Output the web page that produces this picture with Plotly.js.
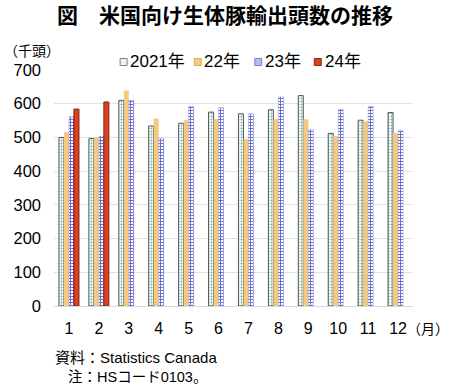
<!DOCTYPE html>
<html>
<head>
<meta charset="utf-8">
<script src="https://cdn.plot.ly/plotly-3.0.1.min.js"></script>
<style>html,body{margin:0;padding:0;background:#fff;}#chart{width:450px;height:386px;}</style>
</head>
<body>
<div id="chart"></div>
<script>
const months = ["1","2","3","4","5","6","7","8","9","10","11","12"];
const seriesNames = ["2021年","22年","23年","24年"];
const y2021 = [500,497,610,534,542,575,570,582,624,512,551,574];
const y2022 = [516,500,639,556,551,555,495,554,554,504,548,513];
const y2023 = [561,503,610,497,592,588,570,620,523,583,592,520];
const y2024 = [584,605];
const yTicks = [0,100,200,300,400,500,600,700];
const titleText = "図　米国向け生体豚輸出頭数の推移";
const unitY = "（千頭）";
const unitX = "（月）";
const note1 = "資料：Statistics Canada";
const note2 = "注：HSコード0103。";

const FONT = "Liberation Sans, Arial, Noto Sans CJK JP, sans-serif";
const CJK = "Noto Sans CJK JP, sans-serif";

// plot-area geometry in pixels (for paper-coordinate helpers)
const L = 53.5, T = 70, W = 360, H = 236;
const px = v => (v - L) / W;
const py = v => (T + H - v) / H;

const fills = ["#ffffff", "#f5c97e", "#ffffff", "#e0401e"];
const lines = ["#555555", "#f5c97e", "#8f93d6", "#7a2010"];
const legFill = ["#eef6f4", "#f5c97e", "#b9bbeb", "#e0401e"];
const legLine = ["#7f7f7f", "#e2ab55", "#7b80d0", "#8b2a14"];
const legSquareX = [123.3, 197.7, 258.3, 318];
const legTextX = [128, 202, 263.5, 323.5];
const legY = 62;

const traces = [
  {type:"bar", name:seriesNames[0], x:months, y:y2021,
   marker:{color:fills[0], line:{color:lines[0], width:1},
           pattern:{shape:".", fgcolor:"#6fb3a8", bgcolor:"#ffffff", size:3, solidity:0.35}}},
  {type:"bar", name:seriesNames[1], x:months, y:y2022,
   marker:{color:fills[1], line:{color:lines[1], width:0}}},
  {type:"bar", name:seriesNames[2], x:months, y:y2023,
   marker:{color:fills[2], line:{color:lines[2], width:0.5},
           pattern:{shape:"+", fgcolor:"#5b60c4", bgcolor:"#ffffff", size:3, solidity:0.5}}},
  {type:"bar", name:seriesNames[3], x:months.slice(0, y2024.length), y:y2024,
   marker:{color:fills[3], line:{color:lines[3], width:1}}}
];

const shapes = [];
const annotations = [
  {xref:"paper", yref:"paper", x:px(1), y:py(50), xanchor:"left", yanchor:"middle",
   text:unitY, showarrow:false, font:{size:14, family:CJK}},
  {xref:"paper", yref:"paper", x:px(405), y:py(328), xanchor:"left", yanchor:"middle",
   text:unitX, showarrow:false, font:{size:14, family:CJK}},
  {xref:"paper", yref:"paper", x:px(52), y:py(357), xanchor:"left", yanchor:"middle",
   text:note1, showarrow:false, font:{size:15}},
  {xref:"paper", yref:"paper", x:px(66), y:py(376.5), xanchor:"left", yanchor:"middle",
   text:note2, showarrow:false, font:{size:14.5}}
];
seriesNames.forEach((n, i) => {
  shapes.push({type:"rect", xref:"paper", yref:"paper",
    x0:px(legSquareX[i]-3.5), x1:px(legSquareX[i]+3.5),
    y0:py(legY+3.5), y1:py(legY-3.5),
    fillcolor:legFill[i], line:{color:legLine[i], width:1}});
  annotations.push({xref:"paper", yref:"paper", x:px(legTextX[i]), y:py(legY-1),
    xanchor:"left", yanchor:"middle", text:n, showarrow:false, font:{size:17}});
});

const layout = {
  width:450, height:386,
  margin:{l:L, r:450-L-W, t:T, b:386-T-H},
  paper_bgcolor:"#ffffff", plot_bgcolor:"#ffffff",
  font:{family:FONT, size:16, color:"#000000"},
  barmode:"group", bargap:0.333, bargroupgap:0,
  showlegend:false,
  title:{text:titleText, x:0.5, xanchor:"center", yref:"container", y:1-16/386, yanchor:"middle",
         font:{size:21, family:CJK, weight:"bold", color:"#000"}},
  xaxis:{type:"category", tickvals:months, ticktext:months, showgrid:false,
         showline:true, linecolor:"#d9d9d9", linewidth:1, ticks:"", ticklabelstandoff:8,
         tickfont:{size:16}},
  yaxis:{range:[0,700], tickvals:yTicks, ticktext:yTicks.map(String), showgrid:true,
         gridcolor:"#e3e3e3", gridwidth:1, zeroline:false, showline:false, ticks:"",
         ticklabelstandoff:12, tickfont:{size:16.5}},
  shapes:shapes,
  annotations:annotations
};

Plotly.newPlot("chart", traces, layout, {displayModeBar:false, staticPlot:true});
</script>
</body>
</html>
